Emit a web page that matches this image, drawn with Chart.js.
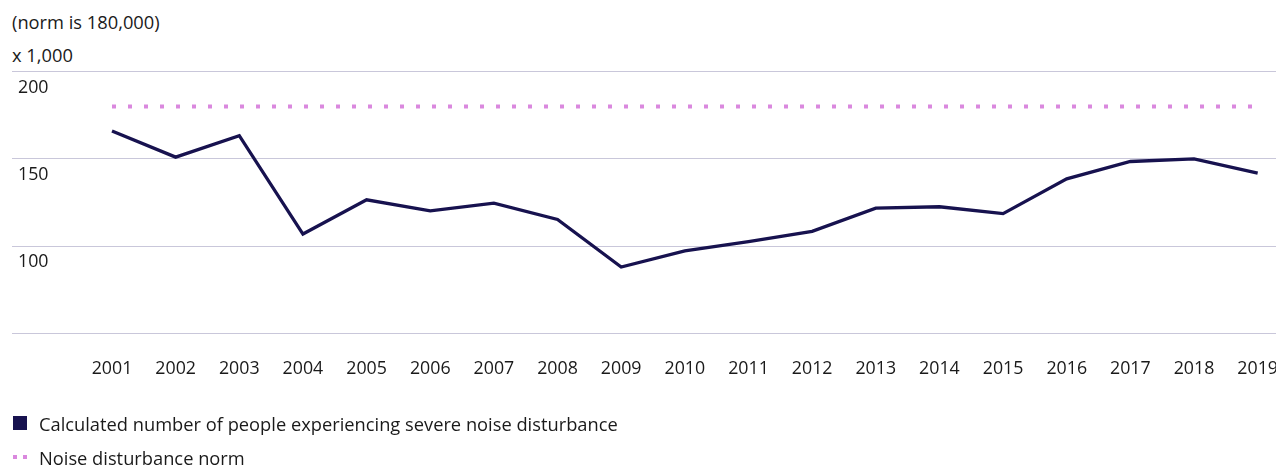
<!DOCTYPE html>
<html>
<head>
<meta charset="utf-8">
<script src="https://cdn.jsdelivr.net/npm/chart.js@4/dist/chart.umd.min.js"></script>
<style>
  html, body { margin: 0; padding: 0; background: #fff; }
  #wrap { position: relative; width: 1276px; height: 469px; overflow: hidden; font-family: "Open Sans", sans-serif; font-size: 18.3px; color: #1a1a1a; }
  .txt { position: absolute; left: 12px; line-height: 20px; white-space: nowrap; }
  #chart { position: absolute; left: 0; top: 0; }
  .box { position: absolute; left: 13px; top: 416px; width: 14px; height: 14px; background: #17124f; }
  .dot { position: absolute; top: 455px; width: 4px; height: 4px; background: #da88de; }
</style>
</head>
<body>
<div id="wrap">
  <div class="txt" style="top:12px">(norm is 180,000)</div>
  <div class="txt" style="top:45px">x 1,000</div>
  <canvas id="chart" width="1276" height="469"></canvas>
  <div class="box"></div>
  <div class="txt" style="left:39px; top:414px">Calculated number of people experiencing severe noise disturbance</div>
  <div class="dot" style="left:13px"></div>
  <div class="dot" style="left:23px"></div>
  <div class="txt" style="left:39px; top:448px">Noise disturbance norm</div>
</div>
<script>
// jaren en waarden (x 1.000)
const jaren = [2001, 2002, 2003, 2004, 2005, 2006, 2007, 2008, 2009, 2010,
               2011, 2012, 2013, 2014, 2015, 2016, 2017, 2018, 2019];
const gehinderden = [166, 151, 163.3, 107, 126.6, 120.3, 124.7, 115.3, 88.1, 97.4,
                     102.6, 108.5, 121.8, 122.6, 118.7, 138.6, 148.5, 150, 141.8];
const norm = [180, 180, 180, 180, 180, 180, 180, 180, 180, 180,
              180, 180, 180, 180, 180, 180, 180, 180, 180];
const yTicks = [50, 100, 150, 200];

const punten = (waarden) => jaren.map((j, i) => ({ x: j, y: waarden[i] }));
const geenPadding = (scale) => {
    scale.paddingLeft = 0; scale.paddingRight = 0;
    scale.paddingTop = 0; scale.paddingBottom = 0;
};

new Chart(document.getElementById("chart"), {
    type: "line",
    data: {
        datasets: [
            {
                label: "Calculated number of people experiencing severe noise disturbance",
                data: punten(gehinderden),
                borderColor: "#17124f",
                borderWidth: 3.3,
                pointRadius: 0,
                tension: 0,
            },
            {
                label: "Noise disturbance norm",
                data: punten(norm),
                borderColor: "#da88de",
                borderWidth: 4,
                borderDash: [4, 12],
                borderCapStyle: "butt",
                pointRadius: 0,
            },
        ],
    },
    options: {
        responsive: false,
        animation: false,
        layout: { padding: { left: 12, right: 0, top: 71.5, bottom: 64 } },
        plugins: { legend: { display: false }, tooltip: { enabled: false } },
        scales: {
            x: {
                type: "linear",
                min: 1999.429,
                max: 2019.288,
                afterBuildTicks: (s) => { s.ticks = jaren.map((v) => ({ value: v })); },
                afterFit: geenPadding,
                grid: { display: false, drawTicks: false },
                border: { display: false },
                ticks: {
                    padding: 25,
                    maxRotation: 0,
                    autoSkip: false,
                    color: "#1a1a1a",
                    font: { family: "Open Sans", size: 17.8 },
                    callback: (v) => String(v),
                },
            },
            y: {
                min: 50,
                max: 200,
                afterBuildTicks: (s) => { s.ticks = yTicks.map((v) => ({ value: v })); },
                afterFit: (s) => { geenPadding(s); s.width = 0; },
                grid: { color: "#c9c7da", lineWidth: 1, drawTicks: false },
                border: { display: false },
                ticks: {
                    mirror: true,
                    padding: 6,
                    labelOffset: 16,
                    color: "#1a1a1a",
                    font: { family: "Open Sans", size: 17.8 },
                    callback: (v) => (v === 50 ? "" : String(v)),
                },
            },
        },
    },
});
</script>
</body>
</html>
